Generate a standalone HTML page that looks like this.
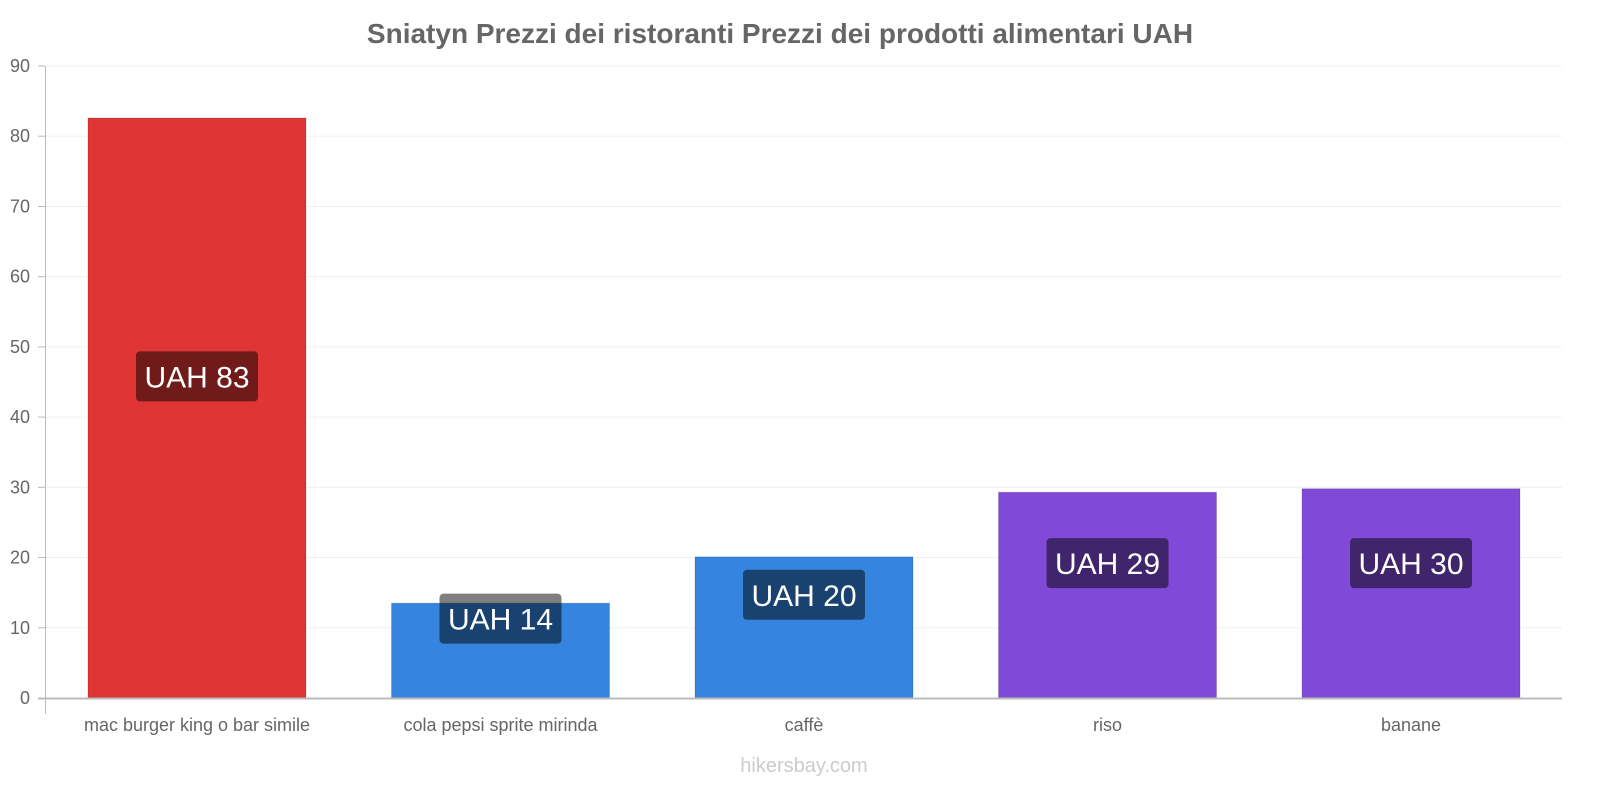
<!DOCTYPE html>
<html><head><meta charset="utf-8"><style>
body{margin:0;background:#fff;}
svg{display:block;font-family:"Liberation Sans",sans-serif;}
</style></head><body>
<svg id="chart" width="1600" height="800">
<text x="780" y="43" text-anchor="middle" font-size="28" font-weight="bold" fill="#666">Sniatyn Prezzi dei ristoranti Prezzi dei prodotti alimentari UAH</text>
<g id="grid"></g><g id="bars"></g><g id="labels"></g>
<line x1="45.5" y1="66" x2="45.5" y2="714" stroke="#bbb" stroke-width="1"/>
<line x1="38" y1="698.5" x2="1562" y2="698.5" stroke="#bbb" stroke-width="2"/>
<text x="804" y="772" text-anchor="middle" font-size="20" fill="#ccc">hikersbay.com</text>
</svg>
<script>
const categories=["mac burger king o bar simile","cola pepsi sprite mirinda","caffè","riso","banane"];
const values=[82.6,13.5,20.1,29.3,29.8];
const valueLabels=["UAH 83","UAH 14","UAH 20","UAH 29","UAH 30"];
const labelCenters=[45.8,11.3,14.7,19.2,19.2];
const colors=["#e03535","#3584e0","#3584e0","#8049d8","#8049d8"];
const yTicks=[0,10,20,30,40,50,60,70,80,90];
const NS="http://www.w3.org/2000/svg";
const y=v=>698-v*(632/90);
const band=i=>88+i*303.5;
const bw=218;
function mk(t,a,p){const e=document.createElementNS(NS,t);for(const k in a)e.setAttribute(k,a[k]);p.appendChild(e);return e;}
const grid=document.getElementById('grid'),bars=document.getElementById('bars'),labels=document.getElementById('labels');
yTicks.forEach(t=>{
 if(t>0){const g=mk('line',{x1:46,x2:1562,y1:y(t),y2:y(t),stroke:'#f0f0f0'},grid);
 
 }
 const tk=mk('line',{x1:38,x2:45,y1:y(t),y2:y(t),stroke:'#bbb'},grid);
 
 
 const tx=mk('text',{x:30,y:y(t)+6,'text-anchor':'end','font-size':18,fill:'#666'},grid);
 tx.textContent=t;
 
 
});
categories.forEach((c,i)=>{
 const x=band(i);
 const r=mk('rect',{x:x,y:y(values[i]),width:bw,height:y(0)-y(values[i]),fill:colors[i],stroke:'rgba(0,0,0,0.15)'},bars);
 
 
 const ct=mk('text',{x:x+bw/2,y:731,'text-anchor':'middle','font-size':18,fill:'#666'},labels);
 ct.textContent=c;
 
 
 const cy=y(labelCenters[i]);
 const b=mk('rect',{x:x+bw/2-61,y:cy-25,width:122,height:50,rx:4,fill:'rgba(0,0,0,0.5)'},labels);
 
 
 const vt=mk('text',{x:x+bw/2,y:cy+11,'text-anchor':'middle','font-size':30,fill:'#fff'},labels);
 vt.textContent=valueLabels[i];
 
 
});
</script>
</body></html>
